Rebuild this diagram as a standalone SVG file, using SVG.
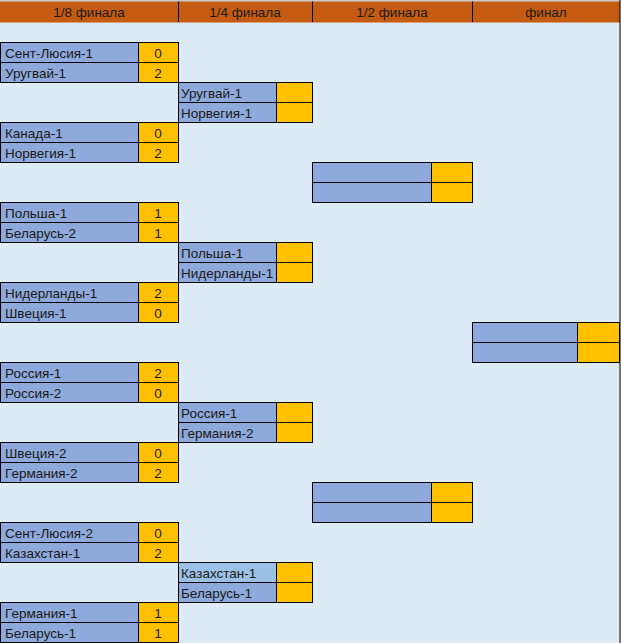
<svg xmlns="http://www.w3.org/2000/svg" width="621" height="643" viewBox="0 0 621 643">
<style>
.bg{fill:#DDEBF7}
.hd{fill:#C55A11}
.n{fill:#8EA9DB;stroke:#000;stroke-width:1}
.n2{fill:#9BC2E6;stroke:#000;stroke-width:1}
.s{fill:#FFC000;stroke:#000;stroke-width:1}
.t{font-family:"Liberation Sans",Arial,sans-serif;font-size:13.5px;fill:#1a1a1a}
.c{text-anchor:middle}
.hl{stroke:#000;stroke-width:1}
</style>
<rect class="bg" x="0" y="0" width="621" height="643"/>
<rect x="0" y="0" width="621" height="1.5" fill="#C8C8C8"/>
<rect class="hd" x="0" y="1.5" width="620" height="21"/>
<g id="header">
<line class="hl" x1="178.5" y1="1.5" x2="178.5" y2="22"/>
<line class="hl" x1="312.5" y1="1.5" x2="312.5" y2="22"/>
<line class="hl" x1="472.5" y1="1.5" x2="472.5" y2="22"/>
<text class="t c" x="89" y="17">1/8 финала</text>
<text class="t c" x="245" y="17">1/4 финала</text>
<text class="t c" x="392" y="17">1/2 финала</text>
<text class="t c" x="546" y="17">финал</text>
</g>
<line class="hl" x1="620" y1="0" x2="620" y2="643"/>
<g transform="translate(0,-1)">
<g id="r16-1">
<rect class="n" x="0.5" y="43.5" width="138" height="20"/><rect class="s" x="138.5" y="43.5" width="40" height="20"/>
<rect class="n" x="0.5" y="63.5" width="138" height="20"/><rect class="s" x="138.5" y="63.5" width="40" height="20"/>
<text class="t" x="5" y="58.5">Сент-Люсия-1</text><text class="t c" x="158" y="58.5">0</text>
<text class="t" x="5" y="78.5">Уругвай-1</text><text class="t c" x="158" y="78.5">2</text>
</g>
<g id="r16-2">
<rect class="n" x="0.5" y="123.5" width="138" height="20"/><rect class="s" x="138.5" y="123.5" width="40" height="20"/>
<rect class="n" x="0.5" y="143.5" width="138" height="20"/><rect class="s" x="138.5" y="143.5" width="40" height="20"/>
<text class="t" x="5" y="138.5">Канада-1</text><text class="t c" x="158" y="138.5">0</text>
<text class="t" x="5" y="158.5">Норвегия-1</text><text class="t c" x="158" y="158.5">2</text>
</g>
<g id="r16-3">
<rect class="n" x="0.5" y="203.5" width="138" height="20"/><rect class="s" x="138.5" y="203.5" width="40" height="20"/>
<rect class="n" x="0.5" y="223.5" width="138" height="20"/><rect class="s" x="138.5" y="223.5" width="40" height="20"/>
<text class="t" x="5" y="218.5">Польша-1</text><text class="t c" x="158" y="218.5">1</text>
<text class="t" x="5" y="238.5">Беларусь-2</text><text class="t c" x="158" y="238.5">1</text>
</g>
<g id="r16-4">
<rect class="n" x="0.5" y="283.5" width="138" height="20"/><rect class="s" x="138.5" y="283.5" width="40" height="20"/>
<rect class="n" x="0.5" y="303.5" width="138" height="20"/><rect class="s" x="138.5" y="303.5" width="40" height="20"/>
<text class="t" x="5" y="298.5">Нидерланды-1</text><text class="t c" x="158" y="298.5">2</text>
<text class="t" x="5" y="318.5">Швеция-1</text><text class="t c" x="158" y="318.5">0</text>
</g>
<g id="r16-5">
<rect class="n" x="0.5" y="363.5" width="138" height="20"/><rect class="s" x="138.5" y="363.5" width="40" height="20"/>
<rect class="n" x="0.5" y="383.5" width="138" height="20"/><rect class="s" x="138.5" y="383.5" width="40" height="20"/>
<text class="t" x="5" y="378.5">Россия-1</text><text class="t c" x="158" y="378.5">2</text>
<text class="t" x="5" y="398.5">Россия-2</text><text class="t c" x="158" y="398.5">0</text>
</g>
<g id="r16-6">
<rect class="n" x="0.5" y="443.5" width="138" height="20"/><rect class="s" x="138.5" y="443.5" width="40" height="20"/>
<rect class="n" x="0.5" y="463.5" width="138" height="20"/><rect class="s" x="138.5" y="463.5" width="40" height="20"/>
<text class="t" x="5" y="458.5">Швеция-2</text><text class="t c" x="158" y="458.5">0</text>
<text class="t" x="5" y="478.5">Германия-2</text><text class="t c" x="158" y="478.5">2</text>
</g>
<g id="r16-7">
<rect class="n" x="0.5" y="523.5" width="138" height="20"/><rect class="s" x="138.5" y="523.5" width="40" height="20"/>
<rect class="n" x="0.5" y="543.5" width="138" height="20"/><rect class="s" x="138.5" y="543.5" width="40" height="20"/>
<text class="t" x="5" y="538.5">Сент-Люсия-2</text><text class="t c" x="158" y="538.5">0</text>
<text class="t" x="5" y="558.5">Казахстан-1</text><text class="t c" x="158" y="558.5">2</text>
</g>
<g id="r16-8">
<rect class="n" x="0.5" y="603.5" width="138" height="20"/><rect class="s" x="138.5" y="603.5" width="40" height="20"/>
<rect class="n" x="0.5" y="623.5" width="138" height="20"/><rect class="s" x="138.5" y="623.5" width="40" height="20"/>
<text class="t" x="5" y="618.5">Германия-1</text><text class="t c" x="158" y="618.5">1</text>
<text class="t" x="5" y="638.5">Беларусь-1</text><text class="t c" x="158" y="638.5">1</text>
</g>
<g id="qf-1">
<rect class="n" x="178.5" y="83.5" width="98" height="20"/><rect class="s" x="276.5" y="83.5" width="36" height="20"/>
<rect class="n" x="178.5" y="103.5" width="98" height="20"/><rect class="s" x="276.5" y="103.5" width="36" height="20"/>
<text class="t" x="181" y="98.5">Уругвай-1</text>
<text class="t" x="181" y="118.5">Норвегия-1</text>
</g>
<g id="qf-2">
<rect class="n" x="178.5" y="243.5" width="98" height="20"/><rect class="s" x="276.5" y="243.5" width="36" height="20"/>
<rect class="n" x="178.5" y="263.5" width="98" height="20"/><rect class="s" x="276.5" y="263.5" width="36" height="20"/>
<text class="t" x="181" y="258.5">Польша-1</text>
<text class="t" x="181" y="278.5">Нидерланды-1</text>
</g>
<g id="qf-3">
<rect class="n" x="178.5" y="403.5" width="98" height="20"/><rect class="s" x="276.5" y="403.5" width="36" height="20"/>
<rect class="n" x="178.5" y="423.5" width="98" height="20"/><rect class="s" x="276.5" y="423.5" width="36" height="20"/>
<text class="t" x="181" y="418.5">Россия-1</text>
<text class="t" x="181" y="438.5">Германия-2</text>
</g>
<g id="qf-4">
<rect class="n2" x="178.5" y="563.5" width="98" height="20"/><rect class="s" x="276.5" y="563.5" width="36" height="20"/>
<rect class="n" x="178.5" y="583.5" width="98" height="20"/><rect class="s" x="276.5" y="583.5" width="36" height="20"/>
<text class="t" x="181" y="578.5">Казахстан-1</text>
<text class="t" x="181" y="598.5">Беларусь-1</text>
</g>
<g id="sf-1">
<rect class="n" x="312.5" y="163.5" width="119" height="20"/><rect class="s" x="431.5" y="163.5" width="41" height="20"/>
<rect class="n" x="312.5" y="183.5" width="119" height="20"/><rect class="s" x="431.5" y="183.5" width="41" height="20"/>
</g>
<g id="sf-2">
<rect class="n" x="312.5" y="483.5" width="119" height="20"/><rect class="s" x="431.5" y="483.5" width="41" height="20"/>
<rect class="n" x="312.5" y="503.5" width="119" height="20"/><rect class="s" x="431.5" y="503.5" width="41" height="20"/>
</g>
<g id="final">
<rect class="n" x="472.5" y="323.5" width="105" height="20"/><rect class="s" x="577.5" y="323.5" width="42" height="20"/>
<rect class="n" x="472.5" y="343.5" width="105" height="20"/><rect class="s" x="577.5" y="343.5" width="42" height="20"/>
</g>
</g>
<g id="connectors"></g>
</svg>
